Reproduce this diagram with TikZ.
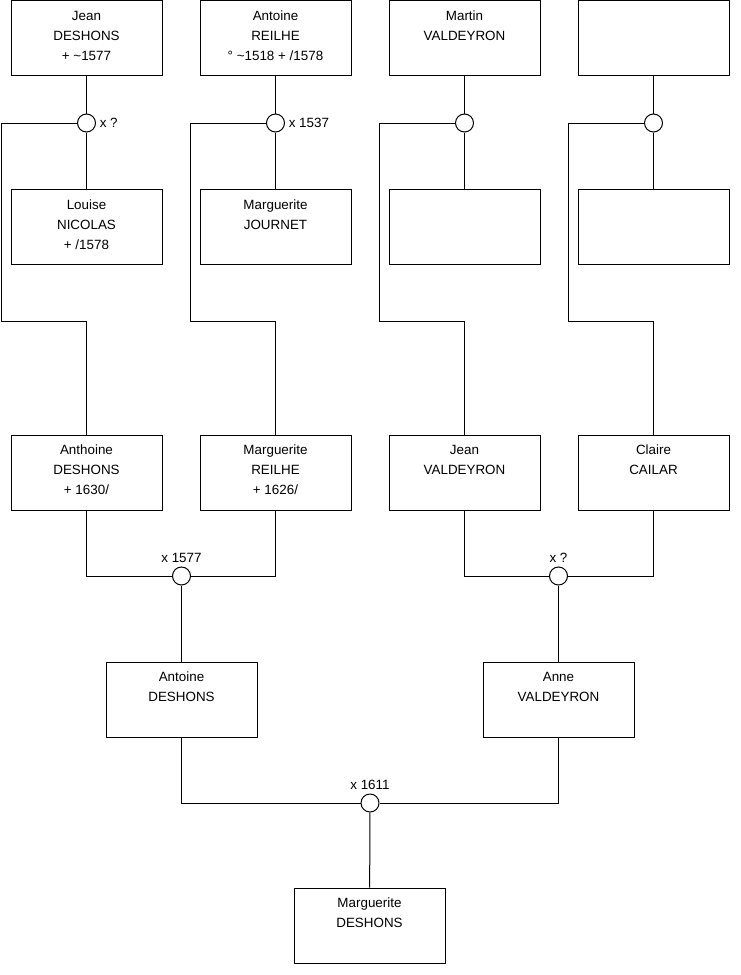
\documentclass[tikz,border=0pt]{standalone}
\usepackage{fontspec}
\setmainfont{Liberation Sans}
\usetikzlibrary{positioning}
\newcommand{\pers}[1]{\parbox[c][75pt][t]{151pt}{\centering\rule{0pt}{19.5pt}#1}}

\begin{document}
\begin{tikzpicture}[x=1pt,y=-1pt,font=\fontsize{13.4}{20}\selectfont,line width=1pt,
  person/.style={draw,rectangle,inner sep=0pt},
  wed/.style={circle,draw,fill=white,minimum size=18pt,inner sep=0pt}]
\useasboundingbox (0,0) rectangle (740,975);
% generation 1
\node[person] (jeanD) at (86.5,38) {\pers{Jean\\DESHONS\\+ \textasciitilde1577}};
\node[person] (antoineR) at (275.5,38) {\pers{Antoine\\REILHE\\° \textasciitilde1518 + /1578}};
\node[person] (martinV) at (464.5,38) {\pers{Martin\\VALDEYRON}};
\node[person] (anon1) at (653.5,38) {\pers{}};
\node[wed] (x1) at (86.5,123) {};
\node[wed] (x2) at (275.5,123) {};
\node[wed] (x3) at (464.5,123) {};
\node[wed] (x4) at (653.5,123) {};
\node[right=0pt of x1] (lx1) {x ?};
\node[right=0pt of x2] (lx2) {x 1537};
\node[person] (louiseN) at (86.5,227) {\pers{Louise\\NICOLAS\\+ /1578}};
\node[person] (margJ) at (275.5,227) {\pers{Marguerite\\JOURNET}};
\node[person] (anon2) at (464.5,227) {\pers{}};
\node[person] (anon3) at (653.5,227) {\pers{}};
\draw (jeanD) -- (x1) -- (louiseN);
\draw (antoineR) -- (x2) -- (margJ);
\draw (martinV) -- (x3) -- (anon2);
\draw (anon1) -- (x4) -- (anon3);
% generation 2
\node[person] (anthoineD) at (86.5,472.5) {\pers{Anthoine\\DESHONS\\+ 1630/}};
\node[person] (margR) at (275.5,472.5) {\pers{Marguerite\\REILHE\\+ 1626/}};
\node[person] (jeanV) at (464.5,472.5) {\pers{Jean\\VALDEYRON}};
\node[person] (claireC) at (653.5,472.5) {\pers{Claire\\CAILAR}};
\coordinate (k1) at (1,321);
\coordinate (k2) at (190,321);
\coordinate (k3) at (379,321);
\coordinate (k4) at (568,321);
\draw (x1.west) -| (k1) -| (anthoineD.north);
\draw (x2.west) -| (k2) -| (margR.north);
\draw (x3.west) -| (k3) -| (jeanV.north);
\draw (x4.west) -| (k4) -| (claireC.north);
% generation 3
\node[wed] (x5) at (181.5,576) {};
\node[wed] (x6) at (558.5,576) {};
\node[above=0pt of x5] (lx5) {x 1577};
\node[above=0pt of x6] (lx6) {x ?};
\draw (anthoineD.south) |- (x5.west);
\draw (margR.south) |- (x5.east);
\draw (jeanV.south) |- (x6.west);
\draw (claireC.south) |- (x6.east);
\node[person] (antoineD) at (181.5,699.5) {\pers{Antoine\\DESHONS}};
\node[person] (anneV) at (558.5,699.5) {\pers{Anne\\VALDEYRON}};
\draw (x5) -- (antoineD);
\draw (x6) -- (anneV);
% generation 4
\node[wed] (x7) at (370,803) {};
\node[above=0pt of x7] (lx7) {x 1611};
\draw (antoineD.south) |- (x7.west);
\draw (anneV.south) |- (x7.east);
\node[person] (margD) at (369.5,925.5) {\pers{Marguerite\\DESHONS}};
\draw (x7) -- (margD);
\end{tikzpicture}
\end{document}
